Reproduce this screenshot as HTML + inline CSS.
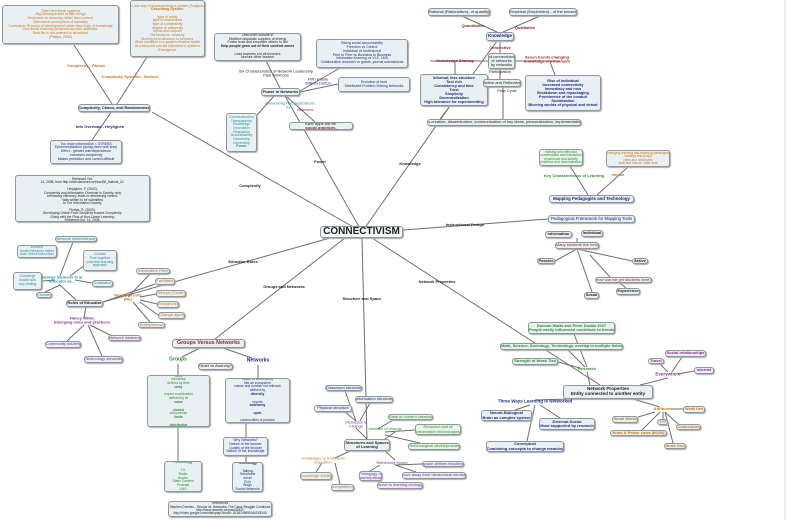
<!DOCTYPE html>
<html><head><meta charset="utf-8">
<style>
html,body{margin:0;padding:0;background:#fff;}
body{width:800px;height:520px;position:relative;overflow:hidden;font-family:"Liberation Sans",sans-serif;}
.b{position:absolute;box-sizing:border-box;background:#e8f0f3;border:1px solid #8d979c;border-radius:3px;box-shadow:1px 1px 1px #aaa;display:flex;flex-direction:column;justify-content:center;align-items:center;text-align:center;font-size:4px;line-height:1.05;color:#333;overflow:hidden;white-space:nowrap;}
.l{position:absolute;font-size:4px;font-weight:bold;white-space:nowrap;transform:translate(-50%,-50%);text-align:center;line-height:1.1;}
.o{color:#c8741e}.n{color:#1a2a7a}.g{color:#2f8a2f}.t{color:#2a8f9a}.p{color:#8a2a9a}.r{color:#9a2020}.k{color:#222}
svg{position:absolute;left:0;top:0}
</style></head><body>
<svg width="800" height="520" stroke="#6f6f6f" stroke-width="1" fill="none">
<line x1="362" y1="232" x2="152" y2="112"/>
<line x1="362" y1="232" x2="285" y2="96"/>
<line x1="362" y1="232" x2="450" y2="106"/>
<line x1="403" y1="230" x2="548" y2="219"/>
<line x1="330" y1="238" x2="103" y2="302"/>
<line x1="345" y1="238" x2="215" y2="339"/>
<line x1="362" y1="238" x2="367" y2="439"/>
<line x1="372" y1="238" x2="600" y2="385"/>
<line x1="112" y1="104" x2="74" y2="45"/>
<line x1="117" y1="104" x2="147" y2="57"/>
<line x1="112" y1="111" x2="92" y2="140"/>
<line x1="280" y1="88" x2="266" y2="61"/>
<line x1="300" y1="91" x2="340" y2="68"/>
<line x1="300" y1="92" x2="338" y2="84"/>
<line x1="275" y1="95" x2="257" y2="115"/>
<line x1="286" y1="96" x2="315" y2="122"/>
<line x1="497" y1="32" x2="462" y2="16"/>
<line x1="503" y1="32" x2="540" y2="16"/>
<line x1="500" y1="41" x2="500" y2="53"/>
<line x1="488" y1="61" x2="430" y2="61"/>
<line x1="455" y1="61" x2="455" y2="74"/>
<line x1="515" y1="61" x2="560" y2="61"/>
<line x1="550" y1="62" x2="555" y2="75"/>
<line x1="500" y1="69" x2="500" y2="79"/>
<line x1="473" y1="74" x2="497" y2="41"/>
<line x1="503" y1="86" x2="503" y2="119"/>
<line x1="450" y1="106" x2="440" y2="119"/>
<line x1="588" y1="195" x2="570" y2="166"/>
<line x1="597" y1="195" x2="628" y2="167"/>
<line x1="577" y1="238" x2="577" y2="242"/>
<line x1="577" y1="249" x2="555" y2="261"/>
<line x1="577" y1="249" x2="632" y2="261"/>
<line x1="577" y1="249" x2="592" y2="292"/>
<line x1="590" y1="255" x2="610" y2="277"/>
<line x1="620" y1="283" x2="626" y2="288"/>
<line x1="76" y1="300" x2="60" y2="285"/>
<line x1="60" y1="276" x2="73" y2="242"/>
<line x1="55" y1="280" x2="42" y2="281"/>
<line x1="75" y1="280" x2="92" y2="283"/>
<line x1="60" y1="285" x2="45" y2="292"/>
<line x1="70" y1="276" x2="85" y2="265"/>
<line x1="103" y1="302" x2="155" y2="284"/>
<line x1="128" y1="297" x2="150" y2="274"/>
<line x1="140" y1="297" x2="156" y2="294"/>
<line x1="140" y1="300" x2="157" y2="304"/>
<line x1="140" y1="302" x2="158" y2="315"/>
<line x1="133" y1="302" x2="150" y2="322"/>
<line x1="86" y1="306" x2="84" y2="318"/>
<line x1="84" y1="325" x2="67" y2="341"/>
<line x1="90" y1="325" x2="110" y2="335"/>
<line x1="88" y1="325" x2="102" y2="356"/>
<line x1="200" y1="348" x2="182" y2="357"/>
<line x1="223" y1="348" x2="252" y2="358"/>
<line x1="178" y1="364" x2="178" y2="375"/>
<line x1="258" y1="365" x2="258" y2="378"/>
<line x1="178" y1="427" x2="178" y2="461"/>
<line x1="246" y1="423" x2="246" y2="437"/>
<line x1="246" y1="456" x2="246" y2="462"/>
<line x1="367" y1="439" x2="356" y2="428"/>
<line x1="356" y1="421" x2="345" y2="412"/>
<line x1="356" y1="421" x2="345" y2="391"/>
<line x1="360" y1="421" x2="370" y2="403"/>
<line x1="385" y1="439" x2="395" y2="432"/>
<line x1="350" y1="451" x2="335" y2="458"/>
<line x1="322" y1="463" x2="316" y2="472"/>
<line x1="335" y1="463" x2="340" y2="484"/>
<line x1="385" y1="451" x2="395" y2="460"/>
<line x1="380" y1="465" x2="370" y2="471"/>
<line x1="395" y1="465" x2="422" y2="464"/>
<line x1="395" y1="465" x2="416" y2="472"/>
<line x1="590" y1="385" x2="587" y2="372"/>
<line x1="587" y1="367" x2="574" y2="334"/>
<line x1="585" y1="367" x2="568" y2="350"/>
<line x1="580" y1="368" x2="558" y2="362"/>
<line x1="640" y1="385" x2="668" y2="378"/>
<line x1="668" y1="372" x2="660" y2="364"/>
<line x1="672" y1="372" x2="682" y2="357"/>
<line x1="678" y1="374" x2="694" y2="371"/>
<line x1="570" y1="399" x2="535" y2="400"/>
<line x1="530" y1="405" x2="515" y2="410"/>
<line x1="540" y1="405" x2="560" y2="418"/>
<line x1="535" y1="405" x2="527" y2="441"/>
<line x1="633" y1="399" x2="660" y2="407"/>
<line x1="672" y1="409" x2="683" y2="409"/>
<line x1="655" y1="412" x2="638" y2="417"/>
<line x1="660" y1="412" x2="642" y2="430"/>
<line x1="663" y1="412" x2="663" y2="419"/>
<line x1="665" y1="412" x2="678" y2="424"/>
<line x1="665" y1="412" x2="673" y2="443"/>
<line x1="378" y1="429" x2="398" y2="417"/>
<line x1="385" y1="432" x2="415" y2="430"/>
<line x1="385" y1="435" x2="420" y2="443"/>
<line x1="785" y1="0" x2="785" y2="520" stroke="#ddd"/>
</svg>

<div class="b o" style="left:2px;top:5px;width:117px;height:39px;font-size:3.5px">Open Non linear systems<br>Big consequences of little things<br>Emphasis on meaning rather than content<br>Alternative conceptions of causality<br>Curriculum: Process of development rather than body of knowledge<br>Non linear learning perceived as more authentic<br>Real life is not ordered or structured<br>(Phelps, 2003)</div>
<div class="b o" style="left:130px;top:0px;width:75px;height:57px;font-size:3.5px">Not one way of characterizing a system (Subjective)<br><b>Describing System:</b><br>type of entity<br>type of interactions<br>type of connectivity<br>degree of uniformity<br>inputs and outputs<br>Hierarchy vs. Anarchy<br>Moving from structure to behavior<br>What condition in a system remains stable<br>At what point can we intervene in systems<br>Emergence</div>
<div class="l o" style="left:86px;top:66px">Complexity - Phelps</div>
<div class="l o" style="left:130px;top:77px">Complexity Systems - Bullock</div>
<div class="b k" style="left:78px;top:104px;width:72px;height:8px;font-weight:bold">Complexity, Chaos, and Randomness</div>
<div class="l n" style="left:100px;top:127px">Info Overload - Heylighen</div>
<div class="b n" style="left:50px;top:140px;width:72px;height:24px;font-size:3.5px">Too much information = STRESS<br>Ephemeralization (doing more with less)<br>Effect - greater interdependence<br>Increases complexity<br>Makes prediction and control difficult</div>
<div class="b k" style="left:15px;top:175px;width:135px;height:47px;font-size:3.3px">Bullock, S. (2006). <i>Introduction to Complexity Science.</i> Retrieved Oct.<br>14, 2008, from http://videolectures.net/ssci06_bullock_i2/.<br><br>Heylighen, F. (2002). <i>Complexity and Information Overload in Society: why<br>increasing efficiency leads to decreasing control.</i> Was written to be submitted<br>to The Information Society.<br><br>Phelps, R. (2003). <i>Developing Online From Simplicity toward Complexity:<br>Going with the Flow of Non-Linear Learning.</i> Retrieved Oct. 14, 2008,<br>from http://www.unb.ca/naweb/proceedings/2003/PaperPhelps.html.</div>
<div class="b k" style="left:214px;top:33px;width:87px;height:28px;font-size:3.5px">Lead from outside in<br>Mobilize disparate supplies of energy<br>Foster trust and empower others to act<br><b>Help people grow out of their comfort zones</b><br>Lead learners not all-knowers<br>Nurture other leaders</div>
<div class="l k" style="left:276px;top:74px;font-weight:normal">Six Characteristics of Network Leadership<br>Paul Simmons</div>
<div class="b k" style="left:261px;top:88px;width:39px;height:8px;font-weight:bold">Power in Networks</div>
<div class="b n" style="left:316px;top:39px;width:92px;height:29px;font-size:3.5px">Rising social accountability<br>Freedom vs Control<br>Individual vs Institutional<br>Peer to Peer vs Business to Business<br>Information learning vs VLE, LMS<br>Collaborative research vs grants, journal submissions</div>
<div class="l n" style="left:318px;top:82px;font-weight:normal">Fifth Estate<br>William Dutton</div>
<div class="b n" style="left:338px;top:77px;width:72px;height:15px;font-size:3.5px">Evolution of trust<br>Distributed Problem Solving Networks</div>
<div class="l t" style="left:290px;top:106px;font-weight:normal">Networking has implications<br>for...</div>
<div class="b t" style="left:226px;top:113px;width:31px;height:39px;font-size:3.5px">Communication<br>Transparency<br>Knowledge<br>Innovation<br>Regulation<br>Accountability<br>Ownership<br>Citizenship<br><b>Power</b></div>
<div class="l r" style="left:305px;top:110px;font-weight:normal">Reinvent</div>
<div class="b k" style="left:289px;top:122px;width:64px;height:8px">Killer apps will be&nbsp;<b class="r">social practices.</b></div>
<div class="l k" style="left:320px;top:162px">Power</div>
<div class="l k" style="left:250px;top:186px">Complexity</div>
<div class="l k" style="left:410px;top:164px">Knowledge</div>
<div class="b k" style="left:320px;top:226px;width:83px;height:12px;font-size:10px;font-weight:bold;border-width:1.5px;background:#f4f7f8">CONNECTIVISM</div>

<div class="b k" style="left:428px;top:8px;width:62px;height:8px">Rational (Rationalism)- of quantity</div>
<div class="b k" style="left:509px;top:8px;width:68px;height:8px">Empirical (Empiricism) - of the senses</div>
<div class="l r" style="left:473px;top:26px">Quantitative</div>
<div class="l r" style="left:525px;top:28px">Qualitative</div>
<div class="b n" style="left:486px;top:32px;width:28px;height:9px;font-size:4.5px;font-weight:bold">Knowledge</div>
<div class="l r" style="left:500px;top:48px">Connective</div>
<div class="b k" style="left:488px;top:53px;width:27px;height:16px">of connections<br>of networks<br>by networks</div>
<div class="l r" style="left:455px;top:61px">Knowledge Sharing</div>
<div class="l r" style="left:547px;top:60px">Seven trends changing<br>knowledge environment</div>
<div class="b n" style="left:420px;top:74px;width:68px;height:32px;font-weight:bold;font-size:3.8px">Informal, less structure<br>Tool rich<br>Consistency and time<br>Trust<br>Simplicity<br>Decentralization<br>High tolerance for experimenting</div>
<div class="l k" style="left:500px;top:72px;font-weight:normal">Participation</div>
<div class="b k" style="left:483px;top:79px;width:38px;height:8px">Active and Reflective</div>
<div class="l k" style="left:507px;top:91px;font-weight:normal">Flow Cycle</div>
<div class="b n" style="left:525px;top:75px;width:76px;height:36px;font-weight:bold;font-size:3.8px">Rise of Individual<br>Increased connectivity<br>Immediacy and now<br>Breakdown and repackaging<br>Prominence of the conduit<br>Socialization<br>Blurring worlds of physical and virtual</div>
<div class="b k" style="left:427px;top:119px;width:154px;height:7px">co-creation, dissemination, communication of key ideas, personalization, implementation</div>
<div class="b g" style="left:539px;top:149px;width:44px;height:17px;font-size:3.3px;background:#e8f6ea">thinking and reflection<br>conversation and interaction<br>experience and activity<br>evidence and demonstration</div>
<div class="b o" style="left:606px;top:150px;width:64px;height:17px;font-size:3.3px">changing learning and teaching paradigms<br>strategy and policy<br>roles and structures<br>staff and learner skills sets</div>
<div class="l g" style="left:574px;top:176px">Key Characteristics of Learning</div>
<div class="l o" style="left:618px;top:175px">Impact</div>
<div class="b n" style="left:549px;top:195px;width:85px;height:8px;font-weight:bold;font-size:4.3px">Mapping Pedagogies and Technology</div>
<div class="b n" style="left:548px;top:215px;width:87px;height:8px;font-size:4.3px">Pedagogical Framework for Mapping Tools</div>
<div class="l k" style="left:465px;top:225px">Instructional Design</div>
<div class="b k" style="left:545px;top:231px;width:27px;height:7px;font-weight:bold">Information</div>
<div class="b k" style="left:581px;top:230px;width:22px;height:7px;font-weight:bold">Individual</div>
<div class="b r" style="left:555px;top:242px;width:44px;height:7px">Many students live here</div>
<div class="b k" style="left:537px;top:258px;width:18px;height:6px;font-weight:bold">Passive</div>
<div class="b k" style="left:632px;top:258px;width:16px;height:6px;font-weight:bold">Active</div>
<div class="b r" style="left:595px;top:277px;width:57px;height:6px">How can we get students here?</div>
<div class="b k" style="left:616px;top:288px;width:24px;height:7px;font-weight:bold">Experience</div>
<div class="b k" style="left:584px;top:292px;width:15px;height:7px;font-weight:bold">Social</div>

<div class="b t" style="left:55px;top:236px;width:42px;height:6px">Network Administrator</div>
<div class="b t" style="left:17px;top:245px;width:40px;height:13px;font-size:3.5px">Modeler<br>model behavior rather<br>than direct instruction</div>
<div class="b t" style="left:83px;top:250px;width:34px;height:21px;font-size:3.5px">Curator<br>Puts together<br>potential learning<br>approach</div>
<div class="b t" style="left:13px;top:272px;width:29px;height:18px;font-size:3.5px">Concierge<br>Assist with<br>way-finding</div>
<div class="l t" style="left:62px;top:280px">George Siemens et al<br>Educator as...</div>
<div class="b t" style="left:92px;top:280px;width:21px;height:7px">Evaluator</div>
<div class="b t" style="left:36px;top:292px;width:16px;height:6px">Knower</div>
<div class="b k" style="left:66px;top:300px;width:37px;height:7px;font-weight:bold">Roles of Educator</div>
<div class="b o" style="left:136px;top:268px;width:34px;height:6px">Information Filter</div>
<div class="b o" style="left:155px;top:278px;width:20px;height:7px">Facilitator</div>
<div class="l o" style="left:128px;top:298px">Wendy Drexler<br>(Me)</div>
<div class="b o" style="left:156px;top:290px;width:30px;height:7px">Sherpa (Guide)</div>
<div class="b o" style="left:157px;top:301px;width:22px;height:7px">Researcher</div>
<div class="b o" style="left:158px;top:312px;width:27px;height:7px">Change agent</div>
<div class="b o" style="left:138px;top:322px;width:27px;height:6px">Entrepreneur</div>
<div class="l p" style="left:82px;top:321px">Nancy White<br>Emerging roles and practices</div>
<div class="b p" style="left:45px;top:341px;width:36px;height:7px">Community leaders</div>
<div class="b p" style="left:108px;top:335px;width:33px;height:6px">Network weavers</div>
<div class="b p" style="left:84px;top:356px;width:39px;height:7px">Technology stewards</div>
<div class="l k" style="left:243px;top:262px">Educator Roles</div>
<div class="l k" style="left:284px;top:287px">Groups and Networks</div>
<div class="l k" style="left:362px;top:299px">Structure and Space</div>
<div class="b r" style="left:172px;top:339px;width:73px;height:9px;font-size:5.3px;font-weight:bold">Groups Versus Networks</div>
<div class="l g" style="left:178px;top:360px;font-size:5px">Groups</div>
<div class="l n" style="left:258px;top:361px;font-size:5px">Networks</div>
<div class="b k" style="left:198px;top:363px;width:35px;height:7px">Order vs Anarchy?</div>
<div class="b g" style="left:147px;top:375px;width:63px;height:52px;font-size:3.3px;line-height:1.15">members according to their nature<br>quality<br>number<br>class<br>elemental<br>defined by their <b>unity</b><br>require coordination<br>defined by its <b>value</b><br><b>closed</b> with precise <b>limits</b><br><b>distributive</b> - all flow from center<br>Classes - unequal distribution<br>privacy</div>
<div class="b n" style="left:225px;top:378px;width:65px;height:45px;font-size:3.3px;line-height:1.15">association by <b>connections</b><br>nature of connectivity<br>like an ecosystem<br>nature and number not relevant<br>defined by <b>diversity</b><br>require <b>autonomy</b><br><b>open</b><br>communities of practice<br><b>distributed</b> - no locus of knowledge<br>Equality</div>
<div class="b n" style="left:223px;top:437px;width:45px;height:19px;font-size:3.5px">Why Networks?<br>Nature of the knower<br>Quality of the knower<br>Nature of the knowledge</div>
<div class="b g" style="left:164px;top:461px;width:38px;height:31px;font-size:3.4px;line-height:1.15"><b>Technology</b><br>T.V.<br>Radio<br>Books<br>Static Content<br>Podcast<br>LMS</div>
<div class="b n" style="left:232px;top:462px;width:31px;height:30px;font-size:3.4px;line-height:1.1"><b>Technology</b><br>Talking<br>Telephone<br>email<br>PLN<br>Blogs<br>Social Networks</div>
<div class="b k" style="left:168px;top:501px;width:104px;height:16px;font-size:3.2px">References<br>Stephen Downes - Groups vs. Networks: The Class Struggle Continues<br>http://www.downes.ca/post/42521<br>http://video.google.com/videoplay?docid=-8136249690061153040</div>

<div class="b n" style="left:325px;top:385px;width:37px;height:6px">Classroom structure</div>
<div class="b n" style="left:355px;top:396px;width:38px;height:7px">Information structure</div>
<div class="b n" style="left:314px;top:405px;width:38px;height:7px">Physical structure</div>
<div class="l p" style="left:356px;top:425px;font-weight:normal">Obstacles to<br>Change</div>
<div class="l g" style="left:385px;top:429px;font-weight:normal">Vehicles of change</div>
<div class="b g" style="left:388px;top:414px;width:45px;height:6px;background:#e8f6ea">Ease of content creation</div>
<div class="b g" style="left:415px;top:424px;width:46px;height:11px;background:#e8f6ea">Reduced cost of<br>information technologies</div>
<div class="b g" style="left:408px;top:443px;width:52px;height:7px;background:#e8f6ea">Technological developments</div>
<div class="b k" style="left:344px;top:439px;width:46px;height:12px;font-weight:bold">Structures and Spaces<br>of Learning</div>
<div class="l o" style="left:323px;top:461px;font-weight:normal">Challenges to traditional<br>education</div>
<div class="b o" style="left:300px;top:472px;width:32px;height:8px">knowledge fluidity</div>
<div class="b o" style="left:331px;top:484px;width:23px;height:7px">competition</div>
<div class="b p" style="left:359px;top:471px;width:23px;height:10px">Pedagogy of<br>participation</div>
<div class="l p" style="left:392px;top:463px;font-weight:normal">Rethinking Space</div>
<div class="b p" style="left:422px;top:461px;width:42px;height:6px">space defines teaching</div>
<div class="b p" style="left:402px;top:472px;width:64px;height:7px">move away from hierarchical mindset</div>
<div class="b p" style="left:377px;top:482px;width:46px;height:7px">move to learning ecology</div>

<div class="l k" style="left:437px;top:282px">Network Properties</div>
<div class="b g" style="left:528px;top:322px;width:87px;height:12px;font-weight:bold">Duncan Watts and Peter Dodds 2007<br>People easily influenced contribute to trends</div>
<div class="b g" style="left:500px;top:343px;width:123px;height:7px;font-weight:bold">Math, Science, Sociology, Technology, overlap in multiple fields</div>
<div class="b g" style="left:512px;top:358px;width:46px;height:7px;font-weight:bold">Strength of Weak Ties</div>
<div class="l g" style="left:587px;top:369px">Research</div>
<div class="b p" style="left:648px;top:358px;width:16px;height:6px;font-weight:bold">Travel</div>
<div class="b p" style="left:665px;top:350px;width:41px;height:7px;font-weight:bold">Social relationships</div>
<div class="b p" style="left:694px;top:367px;width:20px;height:7px;font-weight:bold">Internet</div>
<div class="l p" style="left:668px;top:375px;font-size:4.5px">Everywhere</div>
<div class="b k" style="left:563px;top:385px;width:90px;height:14px;font-size:4.6px;font-weight:bold">Network Properties<br>Entity connected to another entity</div>
<div class="l n" style="left:535px;top:402px;font-size:4.5px">Three Ways Learning is Networked</div>
<div class="b n" style="left:481px;top:410px;width:51px;height:11px;font-weight:bold">Neural-Biological<br>Brain as complex system</div>
<div class="b n" style="left:539px;top:418px;width:56px;height:12px;font-weight:bold">External-Social<br>Most supported by research</div>
<div class="b n" style="left:486px;top:441px;width:78px;height:11px;font-weight:bold">Conceptual<br>Combining concepts to change meaning</div>
<div class="l o" style="left:663px;top:409px">Attributes</div>
<div class="b o" style="left:683px;top:406px;width:22px;height:7px;font-weight:bold">Weak ties</div>
<div class="b o" style="left:612px;top:416px;width:26px;height:7px;font-weight:bold">Small World</div>
<div class="b k" style="left:657px;top:419px;width:11px;height:6px">???</div>
<div class="b o" style="left:676px;top:424px;width:25px;height:6px;font-weight:bold">Connectors</div>
<div class="b o" style="left:610px;top:430px;width:57px;height:6px;font-weight:bold">Hubs &amp; Power Laws (80/20)</div>
<div class="b o" style="left:664px;top:443px;width:22px;height:6px;font-weight:bold">Scale free</div>
</body></html>
